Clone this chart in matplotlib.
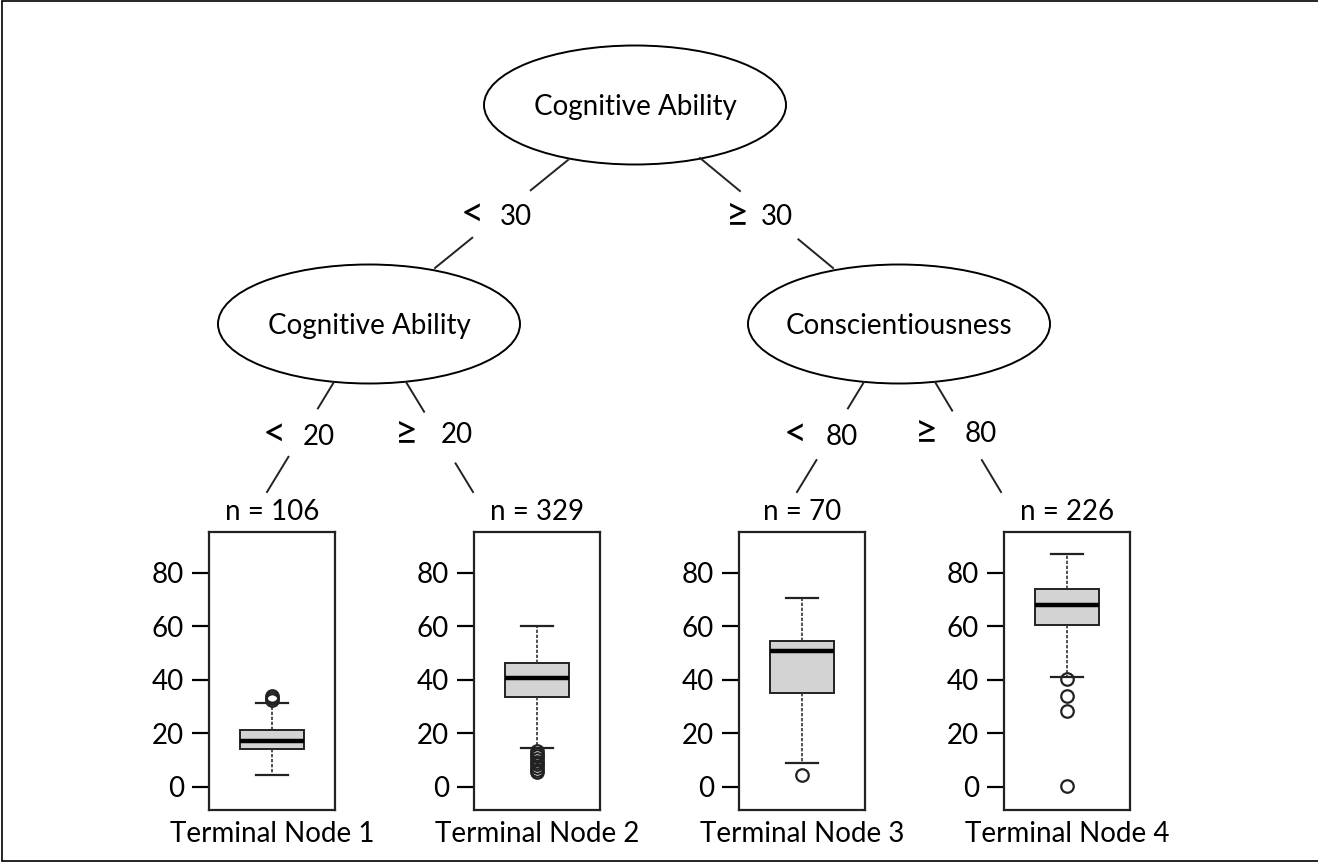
import matplotlib
matplotlib.use("Agg")
import matplotlib.pyplot as plt
from matplotlib.patches import Ellipse

plt.rcParams["font.family"] = ["Lato", "DejaVu Sans"]

# ---- tree structure -------------------------------------------------------
inner_labels = ["Cognitive Ability", "Cognitive Ability", "Conscientiousness"]
split_ops = [["<", "\u2265"], ["<", "\u2265"], ["<", "\u2265"]]
split_values = [["30", "30"], ["20", "20"], ["80", "80"]]

# ---- terminal node summaries ----------------------------------------------
node_names = ["Terminal Node 1", "Terminal Node 2", "Terminal Node 3", "Terminal Node 4"]
node_n = [106, 329, 70, 226]
whisker_lo = [4.4, 14.7, 9.0, 41.1]
q1 = [14.1, 33.6, 35.1, 60.5]
median = [17.3, 40.9, 50.9, 68.0]
q3 = [21.3, 46.4, 54.6, 74.1]
whisker_hi = [31.5, 60.1, 70.8, 87.1]
outliers = [
    [32.5, 33.3, 34.0],
    [5.5, 6.5, 7.5, 8.5, 9.5, 10.5, 11.5, 12.5, 13.3],
    [4.4],
    [40.4, 34.0, 28.5, 0.4],
]
y_ticks = [0, 20, 40, 60, 80]

# ---- layout (pixel coordinates on a 1318 x 863 canvas) --------------------
W, H = 1318, 863
ellipse_xy = [(635, 105), (369, 324), (899, 324)]
ellipse_wh = (302, 119)
# edges: (x0, y0, x1, y1, gap start, gap end)
edges = [
    (568, 160, 435, 268, 0.28, 0.72),
    (700, 158, 833, 268, 0.30, 0.74),
    (334, 382, 267, 492, 0.24, 0.68),
    (406, 382, 473, 492, 0.27, 0.74),
    (864, 382, 797, 492, 0.24, 0.71),
    (935, 382, 1001, 492, 0.26, 0.71),
]
# (op x, value x, y) for each edge label
edge_label_pos = [
    (472, 516, 217), (738, 777, 217),
    (274, 319, 437), (407, 457, 435),
    (795, 842, 437), (927, 981, 434),
]
panel_left = [209, 474, 739, 1004]
panel_w = 126
panel_top, panel_bot = 532, 810
ylim = (-8.6, 95.3)

fig = plt.figure(figsize=(W / 100, H / 100), dpi=100)
ax = fig.add_axes([0, 0, 1, 1])
ax.set_xlim(0, W)
ax.set_ylim(H, 0)
ax.axis("off")

# outer frame
ax.plot([1.5, 1.5], [1.5, 861], color="black", lw=1.2, solid_capstyle="butt")
ax.plot([1.5, W], [1.5, 1.5], color="black", lw=1.2)
ax.plot([1.5, W], [861, 861], color="black", lw=1.2)

# inner nodes
for (cx, cy), label in zip(ellipse_xy, inner_labels):
    ax.add_patch(Ellipse((cx, cy), ellipse_wh[0], ellipse_wh[1], fill=False,
                         edgecolor="black", lw=1.4))
    ax.text(cx, cy + 2, label, ha="center", va="center", fontsize=20)

# edges with a gap for the split label
for x0, y0, x1, y1, g0, g1 in edges:
    ax.plot([x0, x0 + (x1 - x0) * g0], [y0, y0 + (y1 - y0) * g0], color="#222222", lw=1.4)
    ax.plot([x0 + (x1 - x0) * g1, x1], [y0 + (y1 - y0) * g1, y1], color="#222222", lw=1.4)

ops = [op for pair in split_ops for op in pair]
vals = [v for pair in split_values for v in pair]
for (xo, xv, yy), op, v in zip(edge_label_pos, ops, vals):
    ax.text(xo, yy - 3, op, ha="center", va="center", fontsize=29)
    ax.text(xv, yy, v, ha="center", va="center", fontsize=20)

# terminal node boxplots
for i in range(4):
    pax = fig.add_axes([panel_left[i] / W, 1 - panel_bot / H,
                        panel_w / W, (panel_bot - panel_top) / H])
    stats = [dict(med=median[i], q1=q1[i], q3=q3[i], whislo=whisker_lo[i],
                  whishi=whisker_hi[i], fliers=outliers[i])]
    pax.bxp(stats, positions=[0], widths=1.02, capwidths=0.5, patch_artist=True,
            boxprops=dict(facecolor="#d3d3d3", edgecolor="#222222", lw=1.4),
            medianprops=dict(color="black", lw=3.2),
            whiskerprops=dict(color="#333333", lw=1.2, linestyle=(0, (2, 1.0))),
            capprops=dict(color="#222222", lw=1.6),
            flierprops=dict(marker="o", markerfacecolor="none", markeredgecolor="#222222",
                            markersize=9, markeredgewidth=1.6))
    pax.set_xlim(-1, 1)
    pax.set_ylim(*ylim)
    pax.set_xticks([])
    pax.set_yticks(y_ticks)
    pax.tick_params(axis="y", length=12, width=1.6, pad=6, labelsize=20)
    for s in pax.spines.values():
        s.set_linewidth(1.6)
        s.set_color("#222222")
    cx = panel_left[i] + panel_w / 2
    ax.text(cx, 512, f"n = {node_n[i]}", ha="center", va="center", fontsize=20)
    ax.text(cx, 834, node_names[i], ha="center", va="center", fontsize=20)

fig.savefig("out.png", dpi=100)
